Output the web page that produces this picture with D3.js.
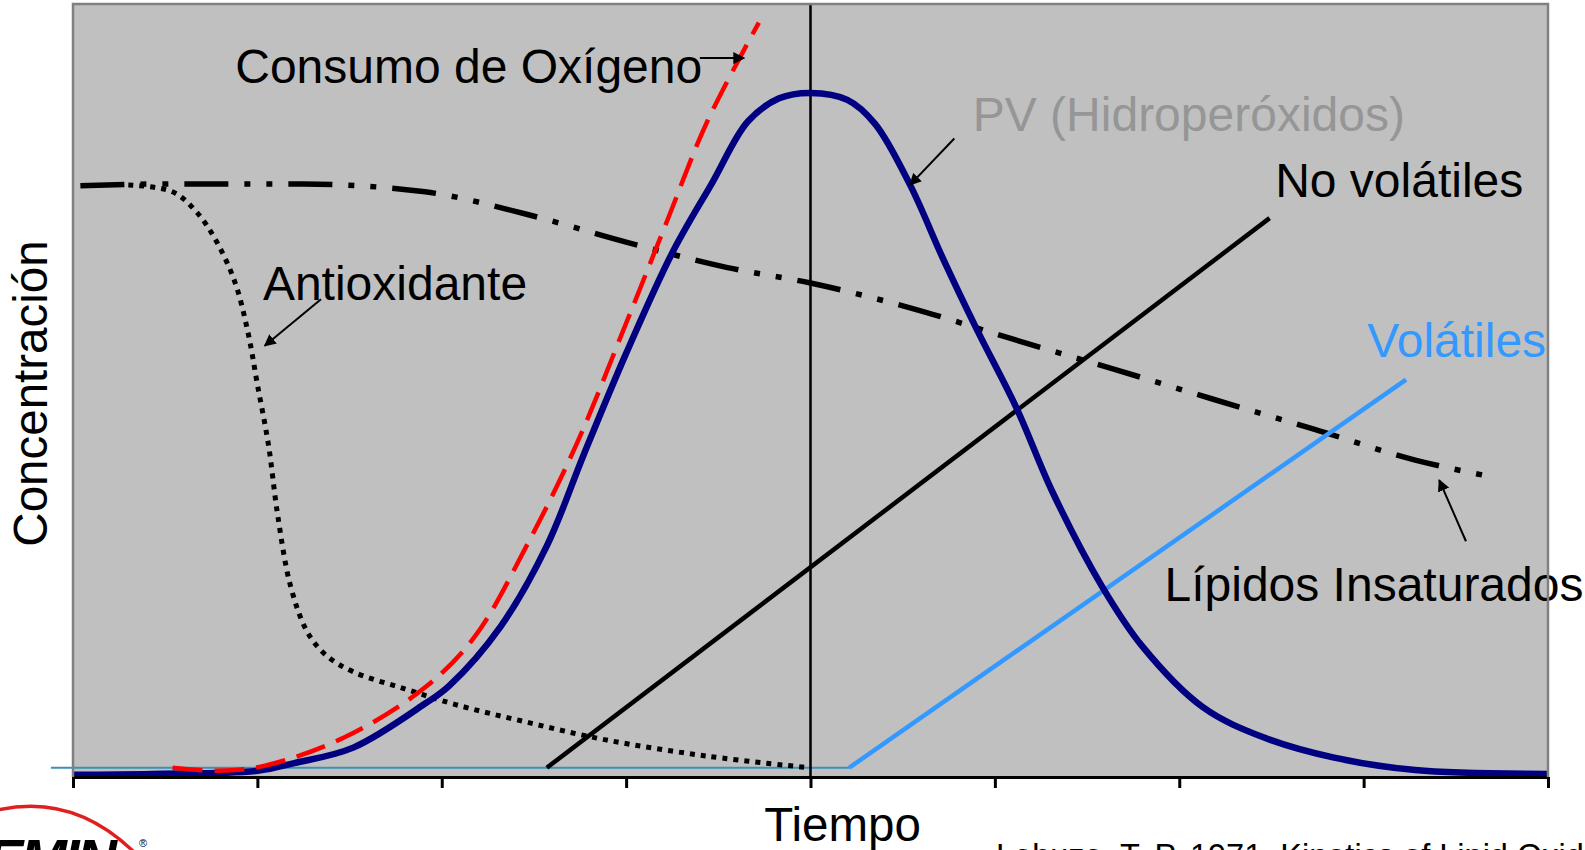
<!DOCTYPE html>
<html>
<head>
<meta charset="utf-8">
<script src="https://cdn.jsdelivr.net/npm/d3@7"></script>
<style>
  html, body { margin: 0; padding: 0; background: #ffffff; overflow: hidden; }
  svg { display: block; }
  text { font-family: "Liberation Sans", Arial, sans-serif; }
</style>
</head>
<body>
<div id="chart"></div>
<script>
// valores (tiempo 0-8, concentracion 0-100)
const tiempoTicks = [0, 1, 2, 3, 4, 5, 6, 7, 8];

const pvHidroperoxidos = [
  [0, 0.3], [0.43, 0.4], [1.0, 0.8], [1.2, 1.8], [1.52, 3.8], [1.91, 9.5],
  [2.04, 11.8], [2.32, 19.5], [2.57, 29.9], [2.77, 41.7], [3.0, 54.8],
  [3.25, 67.8], [3.47, 77.0], [3.66, 84.8], [3.83, 87.8], [4.0, 88.5],
  [4.2, 87.6], [4.35, 84.5], [4.54, 76.6], [4.72, 67.0], [4.9, 58.0],
  [5.12, 47.6], [5.31, 37.0], [5.58, 24.7], [5.8, 16.9], [6.13, 9.0],
  [6.46, 5.1], [6.84, 2.5], [7.28, 0.9], [8.0, 0.4]
];

const consumoOxigeno = [
  [0.54, 1.2], [0.78, 0.8], [1.03, 1.4], [1.47, 5.1], [1.91, 11.6],
  [2.18, 18.2], [2.46, 29.9], [2.73, 43.0], [3.0, 58.7], [3.22, 71.8],
  [3.44, 84.8], [3.72, 97.6]
];

const lipidosInsaturados = [
  [0.04, 76.5], [0.43, 76.7], [1.25, 76.7], [1.91, 75.7], [2.46, 72.8],
  [3.0, 69.2], [3.55, 65.9], [4.0, 63.9], [4.54, 60.7], [5.09, 56.7],
  [5.64, 52.8], [6.18, 48.9], [6.73, 45.0], [7.28, 41.0], [7.68, 38.9]
];

const antioxidante = [
  [0.3, 76.6], [0.54, 75.7], [0.67, 73.1], [0.78, 69.2], [0.88, 63.9],
  [0.95, 57.4], [1.0, 50.8], [1.06, 43.0], [1.11, 33.9], [1.18, 24.7],
  [1.27, 18.8], [1.37, 15.8], [1.52, 13.6], [1.8, 11.4], [2.07, 9.4],
  [2.46, 7.1], [2.89, 4.8], [3.44, 2.7], [3.99, 1.2]
];

const noVolatiles = [[2.57, 1.2], [6.49, 72.3]];
const volatiles = [[4.21, 1.2], [7.23, 51.4]];
const lineaBase = [[-0.12, 1.2], [4.21, 1.2]];
const tiempoPico = 4;

// etiquetas y flechas (en unidades de datos)
const etiquetas = [
  { texto: "Consumo de Oxígeno", t: 0.88, v: 89.8, color: "#000000" },
  { texto: "PV (Hidroperóxidos)", t: 4.88, v: 83.6, color: "#969696" },
  { texto: "No volátiles", t: 6.52, v: 75.0, color: "#000000" },
  { texto: "Antioxidante", t: 1.03, v: 61.7, color: "#000000" },
  { texto: "Volátiles", t: 7.02, v: 54.3, color: "#3399ff" },
  { texto: "Lípidos Insaturados", t: 5.92, v: 22.8, color: "#000000" }
];

const flechas = [
  [[3.40, 93.0], [3.64, 93.0]],
  [[4.78, 82.6], [4.54, 76.6]],
  [[1.345, 61.8], [1.04, 55.8]],
  [[7.555, 30.5], [7.41, 38.4]]
];

const width = 1585, height = 850;
const margin = { top: 4, right: 37, bottom: 73, left: 73 };

const svg = d3.select("#chart").append("svg")
  .attr("width", width)
  .attr("height", height);

const x = d3.scaleLinear().domain([0, 8]).range([margin.left, width - margin.right]);
const y = d3.scaleLinear().domain([0, 100]).range([height - margin.bottom, margin.top]);

const linea = d3.line().x(d => x(d[0])).y(d => y(d[1]));
const curva = d3.line().x(d => x(d[0])).y(d => y(d[1])).curve(d3.curveMonotoneX);
const curvaY = d3.line().x(d => x(d[0])).y(d => y(d[1])).curve(d3.curveCatmullRom.alpha(0.5));

// fondo gris
svg.append("rect")
  .attr("x", x(0)).attr("y", y(100))
  .attr("width", x(8) - x(0)).attr("height", y(0) - y(100))
  .attr("fill", "#c0c0c0");

svg.append("defs").append("marker")
  .attr("id", "punta")
  .attr("viewBox", "0 0 10 10")
  .attr("refX", 9).attr("refY", 5)
  .attr("markerWidth", 6).attr("markerHeight", 6)
  .attr("markerUnits", "strokeWidth")
  .attr("orient", "auto")
  .append("path")
  .attr("d", "M0,0 L10,5 L0,10 z")
  .attr("fill", "#000");

// linea base celeste
svg.append("path")
  .attr("d", linea(lineaBase))
  .attr("fill", "none")
  .attr("stroke", "#3a92b4")
  .attr("stroke-width", 2);

// linea vertical en el pico
svg.append("line")
  .attr("x1", x(tiempoPico)).attr("x2", x(tiempoPico))
  .attr("y1", y(100)).attr("y2", y(0))
  .attr("stroke", "#000").attr("stroke-width", 2.5);

// antioxidante (punteado)
svg.append("path")
  .attr("d", curvaY(antioxidante))
  .attr("fill", "none")
  .attr("stroke", "#000")
  .attr("stroke-width", 5)
  .attr("stroke-dasharray", "5,6");

// lipidos insaturados (raya punto punto)
svg.append("path")
  .attr("d", curva(lipidosInsaturados))
  .attr("fill", "none")
  .attr("stroke", "#000")
  .attr("stroke-width", 5.5)
  .attr("stroke-dasharray", "44,16,6,16,6,16");

// no volatiles
svg.append("path")
  .attr("d", linea(noVolatiles))
  .attr("fill", "none")
  .attr("stroke", "#000")
  .attr("stroke-width", 4.5);

// volatiles
svg.append("path")
  .attr("d", linea(volatiles))
  .attr("fill", "none")
  .attr("stroke", "#3399ff")
  .attr("stroke-width", 4.5);

// PV
svg.append("path")
  .attr("d", curvaY(pvHidroperoxidos))
  .attr("fill", "none")
  .attr("stroke", "#000080")
  .attr("stroke-width", 6.5);

// consumo de oxigeno
svg.append("path")
  .attr("d", curvaY(consumoOxigeno))
  .attr("fill", "none")
  .attr("stroke", "#ff0000")
  .attr("stroke-width", 4.5)
  .attr("stroke-dasharray", "30,12");

// etiquetas
svg.selectAll(".etiqueta")
  .data(etiquetas)
  .enter().append("text")
  .attr("class", "etiqueta")
  .attr("x", d => x(d.t))
  .attr("y", d => y(d.v))
  .attr("fill", d => d.color)
  .style("font-size", "48px")
  .text(d => d.texto);

// flechas
svg.selectAll(".flecha")
  .data(flechas)
  .enter().append("path")
  .attr("class", "flecha")
  .attr("d", d => linea(d))
  .attr("fill", "none")
  .attr("stroke", "#000")
  .attr("stroke-width", 2)
  .attr("marker-end", "url(#punta)");

// eje x
const ejeX = svg.append("g")
  .attr("transform", `translate(0, ${y(0)})`)
  .call(d3.axisBottom(x).tickValues(tiempoTicks).tickSize(11).tickSizeOuter(0).tickFormat(""));
ejeX.select(".domain").attr("stroke", "#000").attr("stroke-width", 3);
ejeX.selectAll(".tick line").attr("stroke", "#000").attr("stroke-width", 3);

// borde del area
svg.append("path")
  .attr("d", `M${x(0)},${y(0)} V${y(100)} H${x(8)} V${y(0)}`)
  .attr("fill", "none")
  .attr("stroke", "#808080")
  .attr("stroke-width", 2.5);

// titulos de ejes
svg.append("text")
  .attr("x", (x(0) + x(8)) / 2 + 32)
  .attr("y", height - 9)
  .attr("text-anchor", "middle")
  .style("font-size", "47.5px")
  .text("Tiempo");

svg.append("text")
  .attr("transform", `translate(47, ${(y(0) + y(100)) / 2 + 3}) rotate(-90)`)
  .attr("text-anchor", "middle")
  .style("font-size", "47.5px")
  .text("Concentración");

// referencia (cortada abajo)
svg.append("text")
  .attr("x", 996)
  .attr("y", height + 17)
  .style("font-size", "32.5px")
  .text("Labuza, T. P. 1971. Kinetics of Lipid Oxidation in Foods");

// logo parcial
svg.append("path")
  .attr("d", "M-10,812 Q70,790 134,852")
  .attr("fill", "none")
  .attr("stroke", "#e02020")
  .attr("stroke-width", 3.5);
svg.append("text")
  .attr("x", -14)
  .attr("y", 878)
  .style("font-size", "56px")
  .style("font-weight", "bold")
  .style("font-style", "italic")
  .style("letter-spacing", "-3px")
  .text("EMIN");
svg.append("text")
  .attr("x", 139)
  .attr("y", 847)
  .style("font-size", "11px")
  .text("®");
</script>
</body>
</html>
